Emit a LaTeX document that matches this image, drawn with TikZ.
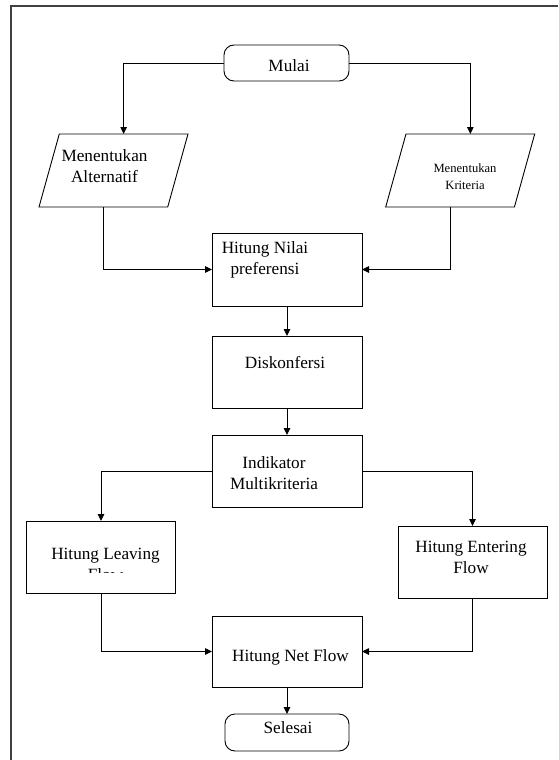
\documentclass[tikz,border=0pt]{standalone}
\usepackage{fontspec}
\setmainfont{Liberation Serif}
\usetikzlibrary{shapes.geometric,arrows.meta}
\tikzset{
  box/.style={draw, line width=0.9pt, minimum width=150pt, minimum height=72pt, inner sep=0pt, outer sep=0pt},
  terminal/.style={draw, line width=0.9pt, rounded corners=10pt, minimum width=125pt, minimum height=36pt, inner sep=0pt, outer sep=0pt},
  datain/.style={draw, line width=0.9pt, trapezium, trapezium left angle=79.4, trapezium right angle=100.6,
    trapezium stretches=true, minimum width=149pt, minimum height=73pt, inner sep=2pt, outer sep=0pt},
  txt/.style={anchor=base, inner sep=0pt, align=center, font=\fontsize{17.2}{21}\selectfont},
  smalltxt/.style={anchor=base, inner sep=0pt, align=center, font=\fontsize{12.6}{17}\selectfont},
  flow/.style={line width=0.9pt, -{Triangle[length=7pt,width=6.5pt]}}
}

\begin{document}
\begin{tikzpicture}[x=1pt,y=-1pt]
\useasboundingbox (0,0) rectangle (558,760);
% page frame
\draw[line width=1.6pt, black!75] (11,760) -- (11,6) -- (558,6);

\node[terminal] (mulai) at (286.5,63) {};
\node[txt] (mulaiT) at (289,71.5) {Mulai};

% base = last line
\node[datain] (alt) at (113.5,170.5) {};
\node[txt] (altT) at (104.5,182) {Menentukan\\Alternatif};
\node[datain] (krit) at (460.2,170.5) {};
\node[smalltxt] (kritT) at (465,189) {Menentukan\\Kriteria};

\node[box, minimum height=73pt] (nilai) at (287,269.5) {};
\node[txt] (nilaiT) at (265,274) {Hitung Nilai\\preferensi};

\node[box] (disk) at (287,372) {};
\node[txt] (diskT) at (285,368) {Diskonfersi};

\node[box] (indi) at (287,471) {};
\node[txt] (indiT) at (274,489) {Indikator\\Multikriteria};

\node[box, minimum width=149pt] (leave) at (101,557) {};
\node[txt] (leaveT) at (105.5,559) {Hitung Leaving};
\begin{scope}
\clip (27,566) rectangle (175,572);
\node[txt] (leaveT2) at (105.5,580) {Flow};
\end{scope}

\node[box, minimum width=149pt] (enter) at (472.5,562) {};
\node[txt] (enterT) at (471,573) {Hitung Entering\\Flow};

\node[box, minimum height=71pt] (net) at (287,651.5) {};
\node[txt] (netT) at (290.5,661) {Hitung Net Flow};

\node[terminal, minimum width=124pt, minimum height=37pt] (selesai) at (287,732.5) {};
\node[txt] (selesaiT) at (288,733) {Selesai};

\draw[flow] (mulai.west) -| (alt.top side);
\draw[flow] (mulai.east) -| (krit.top side);
\draw[flow] (alt.bottom side) |- (nilai.west);
\draw[flow] (krit.bottom side) |- (nilai.east);
\draw[flow] (nilai.south) -- (disk.north);
\draw[flow] (disk.south) -- (indi.north);
\draw[flow] (indi.west) -| (leave.north);
\draw[flow] (indi.east) -| (enter.north);
\draw[flow] (leave.south) |- (net.west);
\draw[flow] (enter.south) |- (net.east);
\draw[flow] (net.south) -- (selesai.north);
\end{tikzpicture}
\end{document}
